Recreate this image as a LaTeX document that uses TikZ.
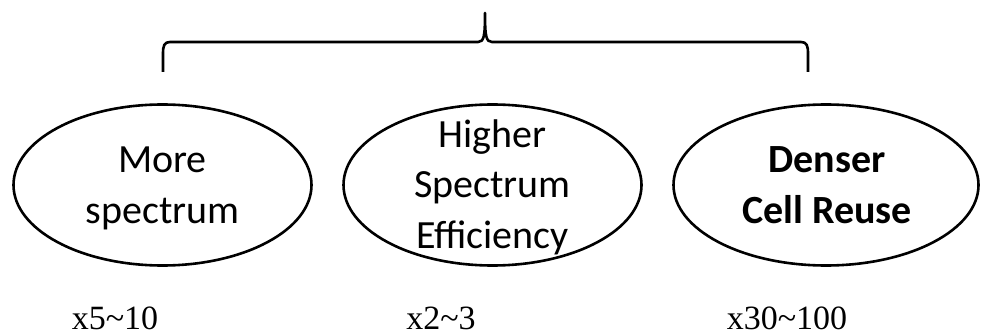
\documentclass[tikz,border=0pt]{standalone}
\usepackage{fontspec}
\setmainfont{Carlito}
\newfontfamily\labfont{Liberation Serif}
\usetikzlibrary{shapes.geometric}
\tikzset{
  oval/.style={ellipse, draw, line width=2.6pt, minimum width=298pt, minimum height=161pt, inner sep=0pt},
  ovaltext/.style={anchor=base, align=center, inner sep=0pt, font=\fontsize{40}{50.5}\selectfont},
  gain/.style={anchor=base, inner sep=0pt, text depth=0pt, font=\labfont\fontsize{34}{40}\selectfont},
  bracestyle/.style={line width=2.6pt, line join=round}
}
\begin{document}
\begin{tikzpicture}[x=1pt,y=1pt]
\useasboundingbox (0,0) rectangle (981,335);
% brace
\coordinate (bl) at (163,263);
\coordinate (br) at (808,263);
\coordinate (tip) at (485,322);
\draw[bracestyle] (bl) -- (163,281) .. controls (163,289) and (164,293) .. (170,293)
  -- (478,293) .. controls (484,293) and (485,299) .. (tip)
  .. controls (485,299) and (486,293) .. (492,293)
  -- (801,293) .. controls (807,293) and (808,289) .. (808,281) -- (br);
% ellipses
\node[oval] (e1) at (162.5,150) {};
\node[oval] (e2) at (492.5,150) {};
\node[oval, minimum width=305pt] (e3) at (826,150) {};
% texts (base anchor = baseline of last line)
\node[ovaltext] (t1) at (162.5,112) {More\\spectrum};
\node[ovaltext] (t2) at (492.5,87) {Higher\\Spectrum\\Efficiency};
\node[ovaltext, font=\fontsize{40}{50.5}\selectfont\bfseries] (t3) at (827,112) {Denser\\Cell Reuse};
% gains
\node[gain] (g1) at (115,6) {x5\char`\~10};
\node[gain] (g2) at (441,6) {x2\char`\~3};
\node[gain] (g3) at (787,6) {x30\char`\~100};
\end{tikzpicture}
\end{document}
